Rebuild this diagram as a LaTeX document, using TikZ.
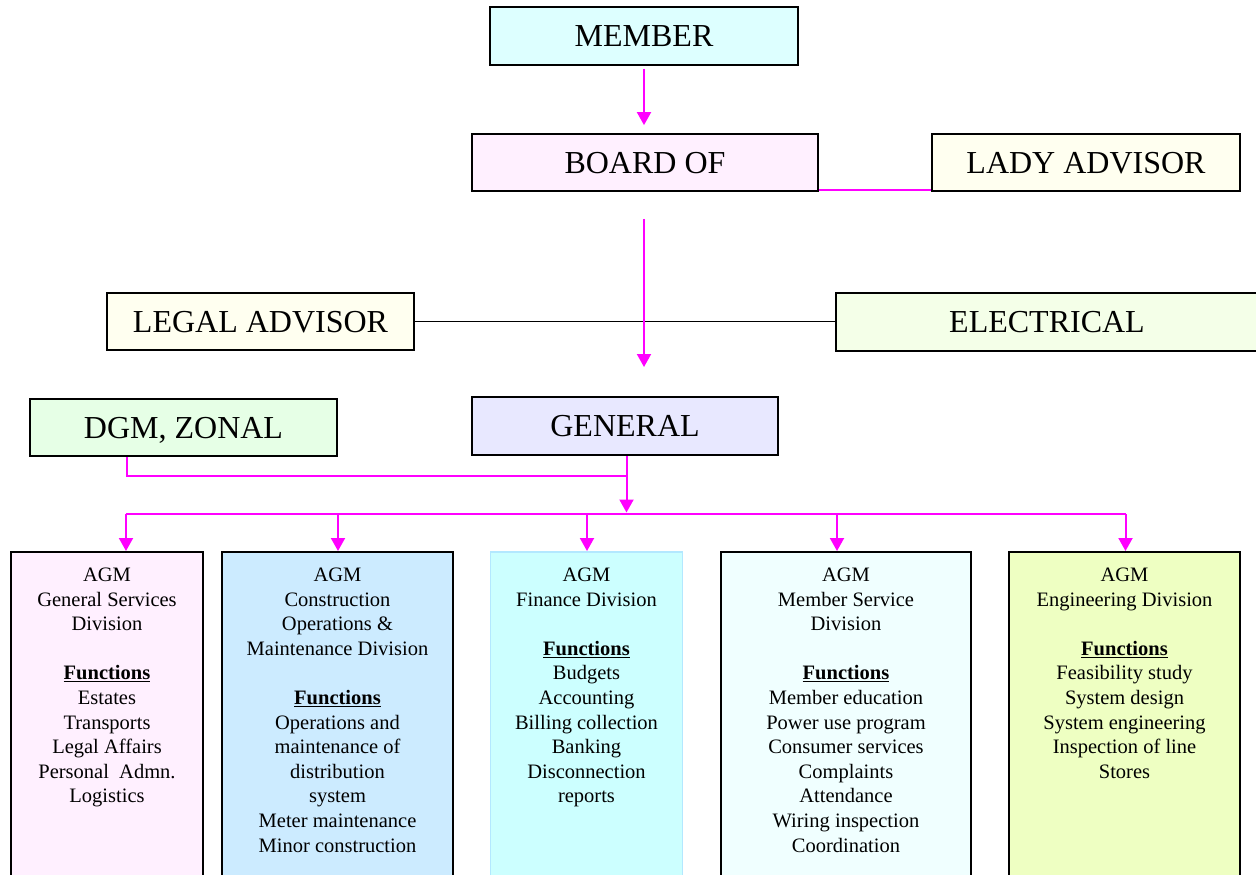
\documentclass[tikz,border=0pt]{standalone}
\usepackage{fontspec}
\setmainfont{Liberation Serif}
\usetikzlibrary{arrows.meta}
\definecolor{mag}{HTML}{FF00FF}
\definecolor{cMember}{HTML}{DDFFFF}
\definecolor{cBoard}{HTML}{FFF0FF}
\definecolor{cIvory}{HTML}{FFFFF0}
\definecolor{cElec}{HTML}{F4FFE8}
\definecolor{cDgm}{HTML}{E6FFE6}
\definecolor{cGen}{HTML}{E8E8FF}
\definecolor{cB1}{HTML}{FFF0FF}
\definecolor{cB2}{HTML}{CCEBFF}
\definecolor{cB3}{HTML}{CCFFFF}
\definecolor{cB3line}{HTML}{B3E8FF}
\definecolor{cB4}{HTML}{F0FFFF}
\definecolor{cB5}{HTML}{EEFFC2}
\begin{document}
\begin{tikzpicture}[x=1pt,y=-1pt,
  topbox/.style={draw=black, line width=1.8pt, inner sep=0pt,
    font=\fontsize{32}{38}\selectfont, text height=21.5pt, text depth=0pt},
  lowbox/.style={draw=black, line width=1.8pt, inner sep=0pt, anchor=north,
    font=\fontsize{20.5}{24.6}\selectfont},
  magline/.style={draw=mag, line width=2pt},
  magarr/.style={magline, -{Triangle[width=14pt,length=13pt]}},
  blackline/.style={draw=black, line width=1.8pt}]
\useasboundingbox (0,0) rectangle (1256,875);

% top nodes
\node[topbox, fill=cMember, minimum width=308pt, minimum height=58pt] (member) at (644,36) {MEMBER};
\node[topbox, fill=cBoard, minimum width=346pt, minimum height=57pt] (board) at (645,162.5) {BOARD OF};
\node[topbox, fill=cIvory, minimum width=308pt, minimum height=57pt] (lady) at (1086,162.5) {LADY ADVISOR};
\node[topbox, fill=cIvory, minimum width=307pt, minimum height=57pt] (legal) at (260.5,321.5) {LEGAL ADVISOR};
\node[topbox, fill=cElec, minimum width=422pt, minimum height=58pt] (elec) at (1047,322) {ELECTRICAL};
\node[topbox, fill=cDgm, minimum width=307pt, minimum height=57pt] (dgm) at (183.5,427.5) {DGM, ZONAL};
\node[topbox, fill=cGen, minimum width=306pt, minimum height=58pt] (gen) at (625,426) {GENERAL};

% bottom division boxes
\node[lowbox, fill=cB1] (b1) at (107,551) {\parbox[t][340pt][t]{192pt}{\centering\rule{0pt}{29.6pt}AGM\\General Services\\Division\\[24.6pt]\underline{\textbf{Functions}}\\Estates\\Transports\\Legal Affairs\\Personal\ \ Admn.\\Logistics}};
\node[lowbox, fill=cB2] (b2) at (337.5,551) {\parbox[t][340pt][t]{231pt}{\centering\rule{0pt}{29.6pt}AGM\\Construction\\Operations \&\\Maintenance Division\\[24.6pt]\underline{\textbf{Functions}}\\Operations and\\maintenance of\\distribution\\system\\Meter maintenance\\Minor construction}};
\node[lowbox, fill=cB3, draw=cB3line] (b3) at (586.5,551) {\parbox[t][340pt][t]{192pt}{\centering\rule{0pt}{29.6pt}AGM\\Finance Division\\[24.6pt]\underline{\textbf{Functions}}\\Budgets\\Accounting\\Billing collection\\Banking\\Disconnection\\reports}};
\node[lowbox, fill=cB4] (b4) at (846,551) {\parbox[t][340pt][t]{250pt}{\centering\rule{0pt}{29.6pt}AGM\\Member Service\\Division\\[24.6pt]\underline{\textbf{Functions}}\\Member education\\Power use program\\Consumer services\\Complaints\\Attendance\\Wiring inspection\\Coordination}};
\node[lowbox, fill=cB5] (b5) at (1124.5,551) {\parbox[t][340pt][t]{231pt}{\centering\rule{0pt}{29.6pt}AGM\\Engineering Division\\[24.6pt]\underline{\textbf{Functions}}\\Feasibility study\\System design\\System engineering\\Inspection of line\\Stores}};

% free ends / junctions
\coordinate (bt) at (644,367);
\coordinate (jn) at (626.5,476);
\coordinate (bus) at (626.5,514);

% connectors
\draw[magarr, shorten <=3pt, shorten >=8pt] (member.south) -- (member.south |- board.north);
\draw[magline] ([yshift=2pt]board.south east) -- ([yshift=2pt]board.south east -| lady.west);
\draw[blackline] (legal.east) -- (legal.east -| elec.west);
\draw[magarr, shorten <=27pt] (board.south -| bt) -- (bt);
\draw[magline] ([xshift=-57pt]dgm.south) |- (jn);
\draw[magline] ([xshift=1.5pt]gen.south) -- (jn);
\draw[magarr, shorten >=1.5pt] (jn) -- (bus);
\draw[magline] ([xshift=19pt]b1.north |- bus) -- ([xshift=1pt]b5.north |- bus);
\draw[magarr] ([xshift=19pt]b1.north |- bus) -- ([xshift=19pt]b1.north);
\draw[magarr] ([xshift=0.5pt]b2.north |- bus) -- ([xshift=0.5pt]b2.north);
\draw[magarr] ([xshift=0.5pt]b3.north |- bus) -- ([xshift=0.5pt]b3.north);
\draw[magarr] ([xshift=-9pt]b4.north |- bus) -- ([xshift=-9pt]b4.north);
\draw[magarr] ([xshift=1pt]b5.north |- bus) -- ([xshift=1pt]b5.north);
\end{tikzpicture}
\end{document}
